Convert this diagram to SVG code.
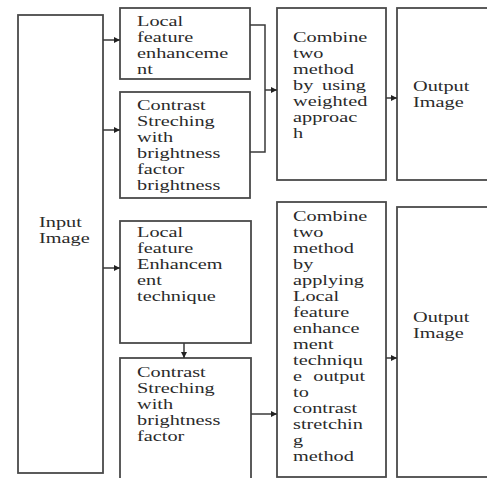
<svg xmlns="http://www.w3.org/2000/svg" width="487" height="478" viewBox="0 0 487 478">
<defs>
<style>
.box{fill:#fff;stroke:#4a4a4a;stroke-width:1.8}
.t{font-family:"Liberation Serif","Times New Roman",serif;font-size:14px;fill:#2a2a2a}
.c{fill:none;stroke:#3a3a3a;stroke-width:1.5}
</style>
<marker id="ah" viewBox="0 0 10 10" refX="10" refY="5" markerWidth="7" markerHeight="6" orient="auto" markerUnits="userSpaceOnUse">
<path d="M0,0 L10,5 L0,10 z" fill="#222"/>
</marker>
</defs>
<rect width="487" height="478" fill="#fff"/>
<g id="input">
<rect class="box" x="18" y="15" width="85" height="458"/>
<g transform="translate(39,0) scale(1.45,1)"><text class="t"><tspan x="0" y="227">Input</tspan><tspan x="0" y="243">Image</tspan></text></g>
</g>
<g id="lfe1">
<rect class="box" x="120" y="8" width="130" height="71"/>
<g transform="translate(137,0) scale(1.45,1)"><text class="t"><tspan x="0" y="26">Local</tspan><tspan x="0" y="42">feature</tspan><tspan x="0" y="58">enhanceme</tspan><tspan x="0" y="74">nt</tspan></text></g>
</g>
<g id="cs1">
<rect class="box" x="120" y="92" width="130" height="106"/>
<g transform="translate(137,0) scale(1.45,1)"><text class="t"><tspan x="0" y="110">Contrast</tspan><tspan x="0" y="126">Streching</tspan><tspan x="0" y="142">with</tspan><tspan x="0" y="158">brightness</tspan><tspan x="0" y="174">factor</tspan><tspan x="0" y="190">brightness</tspan></text></g>
</g>
<g id="lfe2">
<rect class="box" x="120" y="221" width="131" height="122"/>
<g transform="translate(137,0) scale(1.45,1)"><text class="t"><tspan x="0" y="237">Local</tspan><tspan x="0" y="253">feature</tspan><tspan x="0" y="269">Enhancem</tspan><tspan x="0" y="285">ent</tspan><tspan x="0" y="301">technique</tspan></text></g>
</g>
<g id="cs2">
<rect class="box" x="120" y="358" width="131" height="130"/>
<g transform="translate(137,0) scale(1.45,1)"><text class="t"><tspan x="0" y="377">Contrast</tspan><tspan x="0" y="393">Streching</tspan><tspan x="0" y="409">with</tspan><tspan x="0" y="425">brightness</tspan><tspan x="0" y="441">factor</tspan></text></g>
</g>
<g id="comb1">
<rect class="box" x="277" y="8" width="109" height="172"/>
<g transform="translate(293,0) scale(1.45,1)"><text class="t"><tspan x="0" y="42">Combine</tspan><tspan x="0" y="58">two</tspan><tspan x="0" y="74">method</tspan><tspan x="0" y="90">by</tspan><tspan x="20" y="90">using</tspan><tspan x="0" y="106">weighted</tspan><tspan x="0" y="122">approac</tspan><tspan x="0" y="138">h</tspan></text></g>
</g>
<g id="out1">
<rect class="box" x="397" y="8" width="95" height="172"/>
<g transform="translate(413,0) scale(1.45,1)"><text class="t"><tspan x="0" y="91">Output</tspan><tspan x="0" y="107">Image</tspan></text></g>
</g>
<g id="comb2">
<rect class="box" x="277" y="202" width="109" height="275"/>
<g transform="translate(293,0) scale(1.45,1)"><text class="t"><tspan x="0" y="221">Combine</tspan><tspan x="0" y="237">two</tspan><tspan x="0" y="253">method</tspan><tspan x="0" y="269">by</tspan><tspan x="0" y="285">applying</tspan><tspan x="0" y="301">Local</tspan><tspan x="0" y="317">feature</tspan><tspan x="0" y="333">enhance</tspan><tspan x="0" y="349">ment</tspan><tspan x="0" y="365">techniqu</tspan><tspan x="0" y="381">e</tspan><tspan x="14" y="381">output</tspan><tspan x="0" y="397">to</tspan><tspan x="0" y="413">contrast</tspan><tspan x="0" y="429">stretchin</tspan><tspan x="0" y="445">g</tspan><tspan x="0" y="461">method</tspan></text></g>
</g>
<g id="out2">
<rect class="box" x="397" y="207" width="95" height="270"/>
<g transform="translate(413,0) scale(1.45,1)"><text class="t"><tspan x="0" y="322">Output</tspan><tspan x="0" y="338">Image</tspan></text></g>
</g>
<g id="connectors">
<line class="c" x1="103" y1="40" x2="120" y2="40" marker-end="url(#ah)"/>
<line class="c" x1="103" y1="130" x2="120" y2="130" marker-end="url(#ah)"/>
<line class="c" x1="103" y1="268" x2="120" y2="268" marker-end="url(#ah)"/>
<polyline class="c" points="250,25 265,25 265,152 250,152"/>
<line class="c" x1="265" y1="90" x2="277" y2="90" marker-end="url(#ah)"/>
<line class="c" x1="386" y1="98" x2="397" y2="98" marker-end="url(#ah)"/>
<line class="c" x1="184" y1="343" x2="184" y2="358" marker-end="url(#ah)"/>
<line class="c" x1="251" y1="414" x2="277" y2="414" marker-end="url(#ah)"/>
<line class="c" x1="386" y1="358" x2="397" y2="358" marker-end="url(#ah)"/>
</g>
</svg>
